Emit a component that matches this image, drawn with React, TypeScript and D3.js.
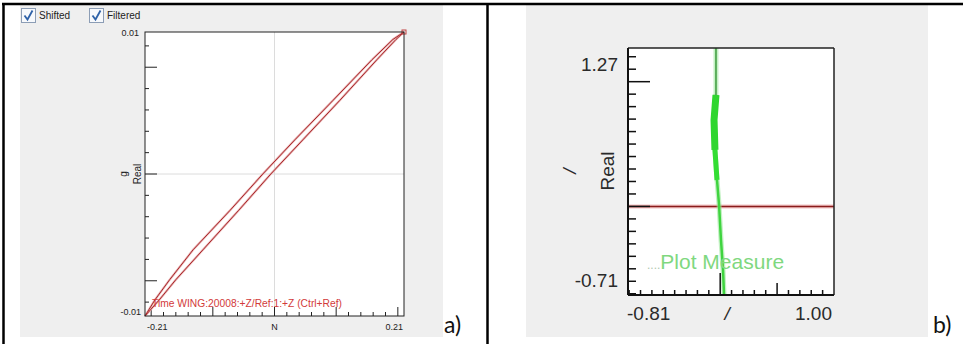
import * as d3 from 'd3';

const W = 963;
const H = 344;

// ---- panel a) : Real vs N loop ----
const aXDomain = [-0.21, 0.21];
const aYDomain = [-0.0133, 0.0133];
const aYTickLabels = ['0.01', '-0.01'];
const aXTickLabels = ['-0.21', 'N', '0.21'];
const aXAxisTitle = 'N';
const aYAxisTitle = ['g', 'Real'];
const legendItems = ['Shifted', 'Filtered'];
const aCaption = 'Time WING:20008:+Z/Ref:1:+Z (Ctrl+Ref)';

// outgoing branch (left) and return branch (right) of the loop
const loopOutX = [-0.21, -0.194, -0.17, -0.132, -0.072, -0.019, 0.033, 0.095, 0.158, 0.192, 0.21];
const loopOutY = [-0.0133, -0.0118, -0.0099, -0.0071, -0.0034, 0, 0.0032, 0.0069, 0.0107, 0.0126, 0.0133];
const loopBackX = [0.21, 0.197, 0.166, 0.106, 0.046, -0.006, -0.058, -0.116, -0.16, -0.187, -0.21];
const loopBackY = [0.0133, 0.0126, 0.0107, 0.0069, 0.0032, 0, -0.0034, -0.0071, -0.0099, -0.0118, -0.0133];

// ---- panel b) : Plot Measure ----
const bXDomain = [-0.81, 1.0];
const bYDomain = [-0.71, 1.27];
const bYTickLabels = ['1.27', '-0.71'];
const bXTickLabels = ['-0.81', '/', '1.00'];
const bYAxisTitle = ['/', 'Real'];
const bCaption = 'Plot Measure';
const measureX = [-0.037, -0.037, -0.054, -0.046, -0.028, -0.01, 0.007, 0.025, 0.034];
const measureY = [1.27, 0.894, 0.693, 0.453, 0.212, 0.012, -0.269, -0.51, -0.71];
const refX = [-0.81, 1.0];
const refY = [0, 0];

const panelLabels = ['a)', 'b)'];

type Pt = [number, number];
const zip = (xs: number[], ys: number[]): Pt[] => xs.map((x, i) => [x, ys[i]]);

function PanelA() {
  const x = d3.scaleLinear().domain(aXDomain).range([145, 404]);
  const y = d3.scaleLinear().domain(aYDomain).range([316, 32]);
  const line = d3.line<Pt>().x(d => x(d[0])).y(d => y(d[1]));

  const yTicks = d3.range(-6, 7).map(i => i * 0.002);
  const xTicks = d3.range(-10, 11).map(i => i * 0.02);
  const isMajor = (v: number, step: number) => Math.abs(v / step - Math.round(v / step)) < 1e-6;
  const font = '"Liberation Sans", Arial, sans-serif';
  const [x0, x1] = x.range();
  const [y0, y1] = y.range();

  return (
    <g>
      <rect x={20} y={5} width={423} height={332} fill="#efefef" />
      {/* legend check boxes */}
      {legendItems.map((name, i) => {
        const bx = 21 + i * 68;
        return (
          <g key={name}>
            <rect x={bx + 0.5} y={8.5} width={14} height={14} fill="#f7f9fc" stroke="#8c9db5" />
            <path
              d={`M${bx + 3.5},${15.5} L${bx + 6.5},${19.5} L${bx + 11.5},${10.5}`}
              fill="none"
              stroke="#2f62a8"
              strokeWidth={1.8}
            />
            <text x={bx + 18} y={19} fontSize={10} fontFamily={font} fill="#222">
              {name}
            </text>
          </g>
        );
      })}

      <rect x={x0} y={y1} width={x1 - x0} height={y0 - y1} fill="#fff" />
      <line x1={x(0)} x2={x(0)} y1={y1} y2={y0} stroke="#dcdcdc" />
      <line x1={x0} x2={x1} y1={y(0)} y2={y(0)} stroke="#dcdcdc" />

      {/* y ticks on the left, pointing inward */}
      {yTicks.map(t => (
        <line
          key={`ya${t}`}
          x1={x0}
          x2={x0 + (isMajor(t, 0.01) ? 12 : 4)}
          y1={y(t)}
          y2={y(t)}
          stroke="#222"
        />
      ))}
      {xTicks.map(t => (
        <line
          key={`xa${t}`}
          x1={x(t)}
          x2={x(t)}
          y1={y0}
          y2={y0 - (isMajor(t, 0.1) ? 9 : 4)}
          stroke="#222"
        />
      ))}

      <path d={line(zip(loopOutX, loopOutY)) || ''} fill="none" stroke="#e9b4b4" strokeWidth={2.2} />
      <path d={line(zip(loopBackX, loopBackY)) || ''} fill="none" stroke="#e9b4b4" strokeWidth={2.2} />
      <path d={line(zip(loopOutX, loopOutY)) || ''} fill="none" stroke="#a8282c" strokeWidth={1} />
      <path d={line(zip(loopBackX, loopBackY)) || ''} fill="none" stroke="#a8282c" strokeWidth={1} />
      <rect
        x={x(loopOutX[loopOutX.length - 1]) - 2}
        y={y(loopOutY[loopOutY.length - 1]) - 2}
        width={4}
        height={4}
        fill="none"
        stroke="#c04040"
      />

      <rect x={x0} y={y1} width={x1 - x0} height={y0 - y1} fill="none" stroke="#222" />

      <text x={152} y={307} fontSize={10} fontFamily={font} fill="#d23a3a" textLength={190} lengthAdjust="spacingAndGlyphs">
        {aCaption}
      </text>

      <text x={139} y={y1 + 4} fontSize={9} fontFamily={font} fill="#222" textAnchor="end">
        {aYTickLabels[0]}
      </text>
      <text x={141} y={y0 - 1} fontSize={9} fontFamily={font} fill="#222" textAnchor="end">
        {aYTickLabels[1]}
      </text>
      <text x={x0 + 2} y={330} fontSize={9} fontFamily={font} fill="#222">
        {aXTickLabels[0]}
      </text>
      <text x={x(0)} y={330} fontSize={9} fontFamily={font} fill="#222" textAnchor="middle">
        {aXAxisTitle}
      </text>
      <text x={x1 - 1} y={330} fontSize={9} fontFamily={font} fill="#222" textAnchor="end">
        {aXTickLabels[2]}
      </text>

      <text transform={`translate(127,${y(0)}) rotate(-90)`} fontSize={10} fontFamily={font} fill="#222" textAnchor="middle">
        {aYAxisTitle[0]}
      </text>
      <text transform={`translate(141,${y(0)}) rotate(-90)`} fontSize={10} fontFamily={font} fill="#222" textAnchor="middle">
        {aYAxisTitle[1]}
      </text>
    </g>
  );
}

function PanelB() {
  const x = d3.scaleLinear().domain(bXDomain).range([628, 834]);
  const y = d3.scaleLinear().domain(bYDomain).range([295, 48]);
  const line = d3.line<Pt>().x(d => x(d[0])).y(d => y(d[1]));

  const yTicks = d3.range(-7, 13).map(i => i / 10);
  const xTicks = d3.range(-8, 10).map(i => i / 10);
  const font = '"Liberation Sans", Arial, sans-serif';
  const [x0, x1] = x.range();
  const [y0, y1] = y.range();
  const measure = zip(measureX, measureY);

  return (
    <g>
      <rect x={526} y={5} width={402} height={332} fill="#efefef" />
      <rect x={x0} y={y1} width={x1 - x0} height={y0 - y1} fill="#fff" />

      {/* reference line at zero */}
      <path d={line(zip(refX, refY)) || ''} fill="none" stroke="#f2c4c4" strokeWidth={4} />
      <path d={line(zip(refX, refY)) || ''} fill="none" stroke="#8a1c1c" strokeWidth={1.5} />

      {/* measured trace */}
      <path d={line(measure) || ''} fill="none" stroke="#9ce89c" strokeWidth={5} opacity={0.6} />
      <path d={line(measure.slice(1, 5)) || ''} fill="none" stroke="#33dd33" strokeWidth={5} />
      <path d={line(measure.slice(1, 4)) || ''} fill="none" stroke="#2fd62f" strokeWidth={7} />
      <path d={line(measure.slice(0, 2)) || ''} fill="none" stroke="#3c9a3c" strokeWidth={1.5} />
      <path d={line(measure.slice(4)) || ''} fill="none" stroke="#3fd43f" strokeWidth={2.5} />

      <text x={647} y={269} fontSize={21} fontFamily={font} fill="#7fd87f">
        <tspan fill="#b0c8b0" fontSize={12}>....</tspan>
        {bCaption}
      </text>

      {yTicks.map(t => (
        <line
          key={`yb${t}`}
          x1={x0}
          x2={x0 + (Math.abs(t) < 1e-9 || Math.abs(t - 1) < 1e-9 ? 22 : 8)}
          y1={y(t)}
          y2={y(t)}
          stroke="#111"
          strokeWidth={1.5}
        />
      ))}
      {xTicks.map(t => (
        <line
          key={`xb${t}`}
          x1={x(t)}
          x2={x(t)}
          y1={y0}
          y2={y0 - (Math.abs(t) < 1e-9 ? 22 : Math.abs(t - 0.5) < 1e-9 ? 12 : 5)}
          stroke="#111"
          strokeWidth={1.5}
        />
      ))}

      <line x1={x0} x2={x1} y1={y1} y2={y1} stroke="#222" strokeWidth={1.5} />
      <line x1={x1} x2={x1} y1={y1} y2={y0} stroke="#222" strokeWidth={1.5} />
      <line x1={x0} x2={x0} y1={y1} y2={y0} stroke="#111" strokeWidth={2} />
      <line x1={x0} x2={x1} y1={y0} y2={y0} stroke="#111" strokeWidth={2} />

      <text x={618} y={71} fontSize={19} fontFamily={font} fill="#2a2a2a" textAnchor="end">
        {bYTickLabels[0]}
      </text>
      <text x={618} y={287} fontSize={19} fontFamily={font} fill="#2a2a2a" textAnchor="end">
        {bYTickLabels[1]}
      </text>
      <text x={627} y={320} fontSize={19} fontFamily={font} fill="#2a2a2a">
        {bXTickLabels[0]}
      </text>
      <text x={x(0) + 7} y={320} fontSize={19} fontFamily={font} fill="#2a2a2a" textAnchor="middle" fontStyle="italic">
        {bXTickLabels[1]}
      </text>
      <text x={832} y={320} fontSize={19} fontFamily={font} fill="#2a2a2a" textAnchor="end">
        {bXTickLabels[2]}
      </text>

      <text transform="translate(576,171) rotate(-90)" fontSize={19} fontFamily={font} fill="#2a2a2a" textAnchor="middle" fontStyle="italic">
        {bYAxisTitle[0]}
      </text>
      <text transform="translate(614,171) rotate(-90)" fontSize={19} fontFamily={font} fill="#2a2a2a" textAnchor="middle">
        {bYAxisTitle[1]}
      </text>
    </g>
  );
}

export default function App() {
  const labelFont = 'Lato, "Open Sans", sans-serif';
  return (
    <svg
      width={W}
      height={H}
      style={{ position: 'absolute', left: 0, top: 0, background: '#fff' }}
    >
      <PanelA />
      <PanelB />

      <text x={444} y={333} fontSize={23} fontFamily={labelFont} fill="#111">
        {panelLabels[0]}
      </text>
      <text x={933} y={333} fontSize={23} fontFamily={labelFont} fill="#111">
        {panelLabels[1]}
      </text>

      {/* table borders */}
      <line x1={2} x2={W} y1={4} y2={4} stroke="#000" strokeWidth={2.5} />
      <line x1={3.5} x2={3.5} y1={3} y2={H} stroke="#000" strokeWidth={2.5} />
      <line x1={487.5} x2={487.5} y1={3} y2={H} stroke="#000" strokeWidth={2.5} />
    </svg>
  );
}
